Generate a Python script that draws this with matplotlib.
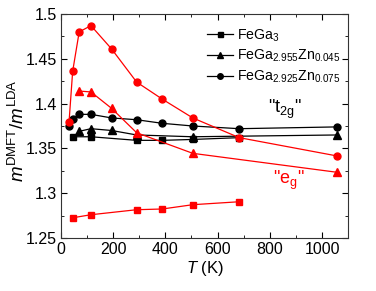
import numpy as np
import matplotlib
matplotlib.use("Agg")
import matplotlib.pyplot as plt
from matplotlib.ticker import MultipleLocator

plt.rcParams['font.family'] = ['Liberation Sans', 'DejaVu Sans']
plt.rcParams['mathtext.fontset'] = 'custom'
plt.rcParams['mathtext.rm'] = 'Liberation Sans'
plt.rcParams['mathtext.it'] = 'Liberation Sans:italic'
plt.rcParams['mathtext.default'] = 'regular'

# t2g (black) data
T_sq = [47, 115, 290, 388, 505, 683]
t2g_sq = [1.363, 1.363, 1.359, 1.359, 1.360, 1.362]
T_tri = [69, 115, 194, 290, 505, 1059]
t2g_tri = [1.369, 1.372, 1.370, 1.365, 1.363, 1.365]
T_circ = [31, 45, 70, 115, 194, 290, 388, 505, 683, 1059]
t2g_circ = [1.375, 1.3825, 1.388, 1.388, 1.384, 1.382, 1.378, 1.375, 1.372, 1.374]

# eg (red) data
eg_sq = [1.2727, 1.276, 1.2816, 1.2824, 1.2872, 1.2905]
T_tri_eg = [70, 115, 194, 290, 505, 1059]
eg_tri = [1.414, 1.413, 1.3947, 1.3675, 1.3445, 1.3233]
eg_circ = [1.379, 1.436, 1.480, 1.487, 1.461, 1.424, 1.405, 1.384, 1.362, 1.3415]

fig = plt.figure(figsize=(3.76, 2.91), dpi=100)
ax = fig.add_axes([0.162, 0.182, 0.764, 0.770])

lw = 0.9
ax.plot(T_sq, t2g_sq, '-s', color='black', lw=lw, ms=4.5, label='FeGa$_3$')
ax.plot(T_tri, t2g_tri, '-^', color='black', lw=lw, ms=5.5, label='FeGa$_{2.955}$Zn$_{0.045}$')
ax.plot(T_circ, t2g_circ, '-o', color='black', lw=lw, ms=5, label='FeGa$_{2.925}$Zn$_{0.075}$')

ax.plot(T_sq, eg_sq, '-s', color='red', lw=lw, ms=4.5)
ax.plot(T_tri_eg, eg_tri, '-^', color='red', lw=lw, ms=5.5)
ax.plot(T_circ, eg_circ, '-o', color='red', lw=lw, ms=5)

ax.text(858, 1.393, '"t$_{2g}$"', fontsize=13, ha='center', va='center')
ax.text(872, 1.314, '"e$_g$"', fontsize=13, ha='center', va='center', color='red')

ax.set_xlim(0, 1100)
ax.set_ylim(1.25, 1.5)
ax.xaxis.set_major_locator(MultipleLocator(200))
ax.xaxis.set_minor_locator(MultipleLocator(100))
ax.yaxis.set_minor_locator(MultipleLocator(0.025))
ax.set_yticks([1.25, 1.3, 1.35, 1.4, 1.45, 1.5])
ax.set_yticklabels(['1.25', '1.3', '1.35', '1.4', '1.45', '1.5'])
ax.tick_params(which='both', direction='in', top=True, right=True, labelsize=11.5, pad=3)
ax.tick_params(which='major', length=4)
ax.tick_params(which='minor', length=2)
for s in ax.spines.values():
    s.set_linewidth(0.8)
    s.set_color('#333333')

ax.set_xlabel('$\\mathit{T}$ (K)', fontsize=12, labelpad=1)
ax.set_ylabel('$\\mathit{m}^{DMFT}/\\mathit{m}^{LDA}$', fontsize=13.5)
ax.yaxis.set_label_coords(-0.115, 0.48)

ax.legend(loc='upper left', bbox_to_anchor=(0.51, 0.94), frameon=False,
          fontsize=10.2, handlelength=1.8, borderaxespad=0, borderpad=0,
          labelspacing=0.3, handletextpad=0.3, markerscale=0.8)

fig.savefig('out.png', dpi=100)
